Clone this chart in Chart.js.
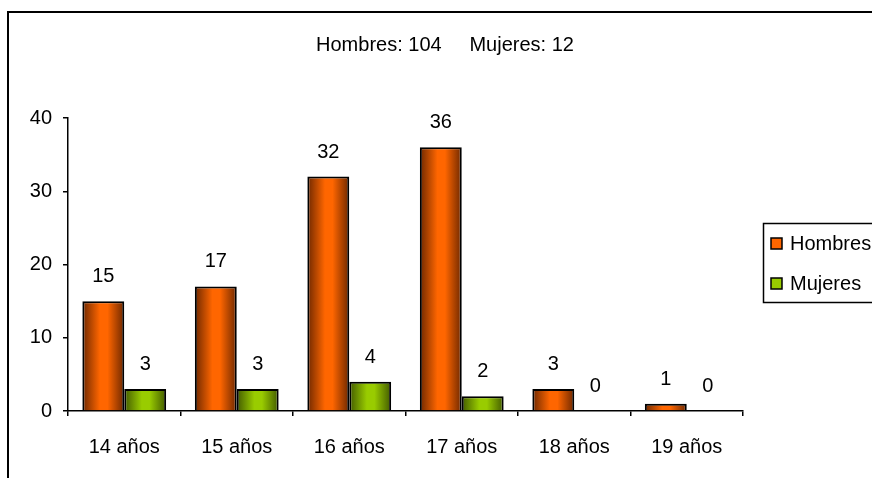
<!DOCTYPE html>
<html>
<head>
<meta charset="utf-8">
<script src="https://cdn.jsdelivr.net/npm/chart.js@4/dist/chart.umd.min.js"></script>
<style>
  html, body { margin: 0; padding: 0; background: #fff; }
  #wrap { width: 872px; height: 478px; }
</style>
</head>
<body>
<div id="wrap"><canvas id="edadChart" width="872" height="478"></canvas></div>
<script>
const categorias = ['14 años', '15 años', '16 años', '17 años', '18 años', '19 años'];
const hombres = [15, 17, 32, 36, 3, 1];
const mujeres = [3, 3, 4, 2, 0, 0];
const yTicks = [0, 10, 20, 30, 40];
const titulo = 'Hombres: 104     Mujeres: 12';

const FONT = '"Liberation Sans", Arial, sans-serif';
const CAT_PCT = 0.745;

const colores = {
  Hombres: { dark: '#6e2800', light: '#ff6600', flat: '#ff6600' },
  Mujeres: { dark: '#425a00', light: '#99cc00', flat: '#99cc00' }
};

// degradado tipo cilindro, calculado desde la escala x
function barGradient(ctx, col, side) {
  const chart = ctx.chart;
  const xs = chart.scales.x;
  if (!chart.chartArea || !xs) return col.flat;
  const slot = xs.width / categorias.length;
  const w = slot * CAT_PCT / 2;
  const c = xs.getPixelForValue(ctx.dataIndex);
  const x0 = side === 0 ? c - w : c;
  const g = chart.ctx.createLinearGradient(x0, 0, x0 + w, 0);
  g.addColorStop(0, col.dark);
  g.addColorStop(0.42, col.light);
  g.addColorStop(0.6, col.light);
  g.addColorStop(1, col.dark);
  return g;
}

const marcoPlugin = {
  id: 'marco',
  afterDraw(chart) {
    const c = chart.ctx;
    c.save();
    // borde exterior
    c.strokeStyle = '#000';
    c.lineWidth = 2;
    c.strokeRect(8, 12, 900, 500);

    // titulo
    c.fillStyle = '#000';
    c.font = '20px ' + FONT;
    c.textAlign = 'center';
    c.textBaseline = 'middle';
    c.fillText(titulo, 445, 45);

    // leyenda
    c.lineWidth = 1.5;
    c.strokeRect(763.5, 223.5, 200, 79);
    const items = [['Hombres', 244], ['Mujeres', 284]];
    items.forEach(([name, y]) => {
      c.fillStyle = colores[name].flat;
      c.fillRect(771, y - 6, 11, 11);
      c.strokeRect(771, y - 6, 11, 11);
      c.fillStyle = '#000';
      c.textAlign = 'left';
      c.fillText(name, 790, y);
    });
    c.restore();
  },
  afterDatasetsDraw(chart) {
    const c = chart.ctx;
    c.save();
    c.fillStyle = '#000';
    c.font = '20px ' + FONT;
    c.textAlign = 'center';
    c.textBaseline = 'alphabetic';
    chart.data.datasets.forEach((ds, i) => {
      chart.getDatasetMeta(i).data.forEach((bar, j) => {
        c.fillText(String(ds.data[j]), bar.x, bar.y - 19);
      });
    });
    c.restore();
  }
};

const chart = new Chart(document.getElementById('edadChart'), {
  type: 'bar',
  data: {
    labels: categorias,
    datasets: [
      {
        label: 'Hombres',
        data: hombres,
        backgroundColor: ctx => barGradient(ctx, colores.Hombres, 0),
        borderColor: '#000',
        borderWidth: ctx => (ctx.raw === 0 ? 0 : 2),
        borderSkipped: 'bottom'
      },
      {
        label: 'Mujeres',
        data: mujeres,
        backgroundColor: ctx => barGradient(ctx, colores.Mujeres, 1),
        borderColor: '#000',
        borderWidth: ctx => (ctx.raw === 0 ? 0 : 2),
        borderSkipped: 'bottom'
      }
    ]
  },
  options: {
    responsive: false,
    animation: false,
    datasets: { bar: { categoryPercentage: CAT_PCT, barPercentage: 1 } },
    layout: { padding: { top: 118, right: 129, left: 0, bottom: 0 } },
    plugins: {
      legend: { display: false },
      title: { display: false },
      tooltip: { enabled: false }
    },
    scales: {
      x: {
        afterFit: s => { s.height = 67; },
        border: { display: true, color: '#000', width: 1.5 },
        grid: { display: true, drawOnChartArea: false, drawTicks: true, tickLength: 5, color: '#000', lineWidth: 1.5, offset: true },
        ticks: { color: '#000', padding: 19, font: { family: FONT, size: 20 } }
      },
      y: {
        min: 0,
        max: 40,
        afterFit: s => { s.width = 68; },
        afterBuildTicks: s => { s.ticks = yTicks.map(v => ({ value: v })); },
        border: { display: true, color: '#000', width: 1.5 },
        grid: { display: true, drawOnChartArea: false, drawTicks: true, tickLength: 5, color: '#000', lineWidth: 1.5 },
        ticks: { color: '#000', padding: 11, font: { family: FONT, size: 20 } }
      }
    }
  },
  plugins: [marcoPlugin]
});
</script>
</body>
</html>
